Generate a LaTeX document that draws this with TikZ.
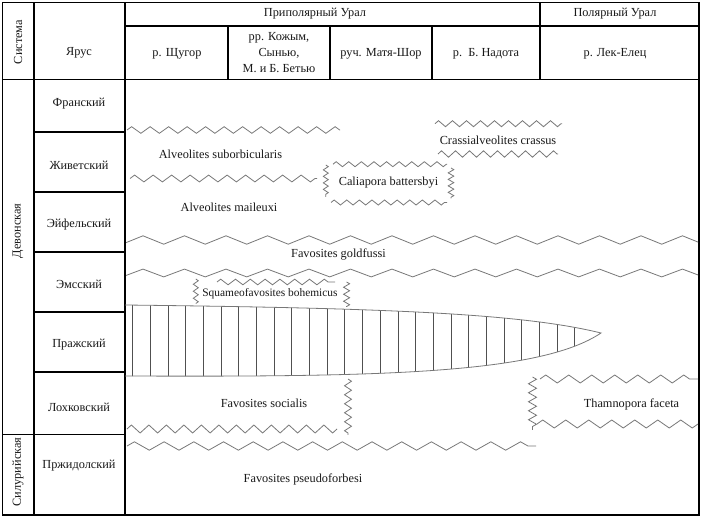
\documentclass[tikz,border=0pt]{standalone}
\usepackage{fontspec}
\setmainfont{Liberation Serif}
\usetikzlibrary{decorations.pathmorphing}
\definecolor{zzgray}{RGB}{120,120,120}
\definecolor{hatchgray}{RGB}{80,80,80}
\begin{document}
\begin{tikzpicture}[x=1pt,y=-1pt,
  tbl/.style={line width=1.6pt, line cap=rect, draw=black},
  zz/.style args={#1 and #2}{draw=zzgray, line width=0.8pt, decorate, decoration={zigzag, segment length=#1, amplitude=#2}},
  lbl/.style={font=\fontsize{12.3}{14}\selectfont, inner sep=0pt, text=black!90},
  hatch/.style={draw=hatchgray, line width=0.8pt},
  lensline/.style={draw=zzgray, line width=0.8pt}]
\useasboundingbox (0,0) rectangle (702,518);
\fill[white] (0,0) rectangle (702,518);

% ---- table frame ----
\draw[tbl] (2.5,2.5) rectangle (699,515);
\draw[tbl] (34,2.5) -- (34,515);
\draw[tbl] (125,2.5) -- (125,515);
\draw[tbl] (2.5,79.5) -- (699,79.5);
\draw[tbl] (125,26) -- (699,26);
\draw[tbl] (540,2.5) -- (540,79.5);
\draw[tbl] (228,26) -- (228,79.5);
\draw[tbl] (330,26) -- (330,79.5);
\draw[tbl] (432,26) -- (432,79.5);
\foreach \yy in {132,192,252,312,372} \draw[tbl] (34,\yy) -- (125,\yy);
\draw[tbl] (2.5,434.5) -- (125,434.5);

% ---- header texts ----
\node[lbl, rotate=90] (sys) at (18,42) {Система};
\node[lbl] (yarus) at (79,53) {Ярус};
\node[lbl] (pripol) at (315,14) {Приполярный Урал};
\node[lbl] (pol) at (615,14) {Полярный Урал};
\node[lbl] (shch) at (177,54) {р. Щугор};
\node[lbl, align=center, font=\fontsize{12.3}{16}\selectfont] (kozh) at (279,53) {рр. Кожым,\\Сынью,\\М. и Б. Бетью};
\node[lbl] (matya) at (381,54) {руч. Матя-Шор};
\node[lbl] (nadota) at (486,54) {р.\ \ Б. Надота};
\node[lbl] (lek) at (615,54) {р. Лек-Елец};

% ---- systems & stages ----
\node[lbl, rotate=90] (dev) at (18,231) {Девонская};
\node[lbl, rotate=90] (sil) at (18,472) {Силурийская};
\node[lbl] (fran) at (79,104) {Франский};
\node[lbl] (zhiv) at (79,165) {Живетский};
\node[lbl] (eif) at (79,225) {Эйфельский};
\node[lbl] (ems) at (79,284) {Эмсский};
\node[lbl] (prag) at (79,345) {Пражский};
\node[lbl] (lokh) at (79,407) {Лохковский};
\node[lbl] (przh) at (79,466) {Пржидолский};

% ---- lens (Пражский) ----
\begin{scope}
\clip (125,305) .. controls (380,308) and (520,313) .. (601,333)
      .. controls (540,374) and (380,377) .. (125,376) -- cycle;
\foreach \i in {0,...,25} \draw[hatch] ({132.7+17.68*\i},300) -- ({132.7+17.68*\i},380);
\end{scope}
\draw[lensline] (125,305) .. controls (380,308) and (520,313) .. (601,333)
      .. controls (540,374) and (380,377) .. (125,376);

% ---- zigzag ranges ----
% Alveolites suborbicularis
\draw[zz=18.5 and 3.3] (127,130) -- (340,130);
% Alveolites maileuxi
\draw[zz=18.5 and 3.4] (130,178.5) -- (317,178.5);
% Caliapora battersbyi
\draw[zz=12.6 and 2.5] (333,164.2) -- (447,164.2);
\draw[zz=12.6 and 2.5] (331,202.5) -- (447,202.5);
\draw[zz=6.5 and 2.5] (325.8,165) -- (325.8,197);
\draw[zz=6.5 and 2.8] (451,168) -- (451,198.5);
% Crassialveolites crassus
\draw[zz=14 and 3] (435,123.7) -- (562,123.7);
\draw[zz=14 and 3.2] (438,154) -- (558,154);
% Favosites goldfussi
\begin{scope}
\clip (126,220) rectangle (698,290);
\draw[zz=41.5 and 4.2] (91.1,240) -- (739.5,240);
\draw[zz=41.5 and 3.9] (91.1,273) -- (739.5,273);
\end{scope}
% Squameofavosites bohemicus
\draw[zz=14.8 and 2.8] (217,282) -- (335,282);
\draw[zz=7 and 2.5] (195.8,279) -- (195.8,303.5);
\draw[zz=7 and 3] (346.6,282) -- (346.6,307);
% Favosites socialis
\draw[zz=17.5 and 4] (127,429) -- (337,429);
\draw[zz=9 and 3.5] (348,379) -- (348,435);
% Favosites pseudoforbesi
\draw[zz=29.7 and 4.2] (127,446) -- (536,446);
% Thamnopora faceta
\draw[zz=23 and 4] (540,379) -- (698,379);
\draw[zz=23 and 4] (537,424) -- (698,424);
\draw[zz=9 and 4] (532.5,377) -- (532.5,430);

% ---- taxon labels ----
\node[lbl] (asub) at (220.5,154) {Alveolites suborbicularis};
\node[lbl] (amai) at (229,207.5) {Alveolites maileuxi};
\node[lbl] (cali) at (388.5,183) {Caliapora battersbyi};
\node[lbl] (crass) at (498,140) {Crassialveolites crassus};
\node[lbl] (gold) at (338.5,255) {Favosites goldfussi};
\node[lbl, font=\fontsize{11.4}{13}\selectfont] (squam) at (270,294) {Squameofavosites bohemicus};
\node[lbl] (soc) at (264,403) {Favosites socialis};
\node[lbl] (tham) at (631.5,404) {Thamnopora faceta};
\node[lbl] (pseudo) at (303,479) {Favosites pseudoforbesi};
\end{tikzpicture}
\end{document}
